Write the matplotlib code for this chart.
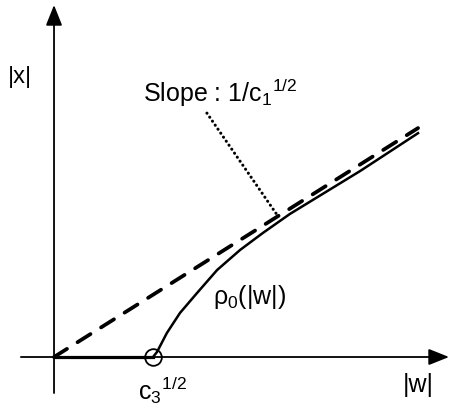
import numpy as np
import matplotlib
matplotlib.use('Agg')
import matplotlib.pyplot as plt

plt.rcParams['font.family'] = ['Liberation Sans', 'DejaVu Sans']
plt.rcParams['mathtext.fontset'] = 'custom'
plt.rcParams['mathtext.rm'] = 'Liberation Sans'
plt.rcParams['mathtext.it'] = 'Liberation Sans'
plt.rcParams['lines.scale_dashes'] = False

# values (one unit ~ 36 px)
c3_sqrt = 2.72
slope = 0.629          # 1/c1^(1/2)
w_end = 10.0
rho_w = [2.72, 2.83, 3.10, 3.46, 3.93, 4.48, 5.11, 5.74, 6.48, 8.41, 10.0]
rho_x = [0.0, 0.14, 0.66, 1.21, 1.76, 2.39, 2.94, 3.41, 3.93, 5.11, 6.15]
dot_w = [4.2, 6.13]
dot_x = [6.70, 3.90]

fig = plt.figure(figsize=(4.49, 4.12), dpi=100)
ax = fig.add_axes([0, 0, 1, 1])
ax.set_xlim(-1.484, 10.85)
ax.set_ylim(-1.511, 9.808)
ax.axis('off')

# axes with arrows
head = dict(arrowstyle='-|>,head_length=1.25,head_width=0.5', color='black', lw=1.3, shrinkA=0, shrinkB=0)
ax.annotate('', xy=(10.85, 0), xytext=(-0.91, 0), arrowprops=head)
ax.annotate('', xy=(0, 9.67), xytext=(0, -0.99), arrowprops=head)

# asymptote
ww = np.array([0, w_end])
ax.plot(ww, slope * ww, color='black', lw=2.7, dashes=(11, 9), dash_capstyle='round')

# rho_0 curve
ax.plot([0, c3_sqrt], [0, 0], color='black', lw=2.3)
ax.plot(rho_w, rho_x, color='black', lw=1.8, solid_joinstyle='round')
ax.plot([c3_sqrt], [0], 'o', ms=12, mfc='none', mec='black', mew=1.3)

# pointer to slope
ax.plot(dot_w, dot_x, color='black', lw=2.2, ls=(0, (0.1, 3.4)), dash_capstyle='round')

ax.text(-1.26, 7.53, '|x|', fontsize=17, ha='left', va='baseline')
ax.text(2.45, 7.0, 'Slope : 1/c$_1{}^{1/2}$', fontsize=18, ha='left', va='baseline')
ax.text(4.37, 1.46, 'ρ$_0$(|w|)', fontsize=18, ha='left', va='baseline')
ax.text(9.59, -0.96, '|w|', fontsize=18, ha='left', va='baseline')
ax.text(2.31, -1.18, 'c$_3{}^{1/2}$', fontsize=18, ha='left', va='baseline')

fig.savefig('out.png', dpi=100)
